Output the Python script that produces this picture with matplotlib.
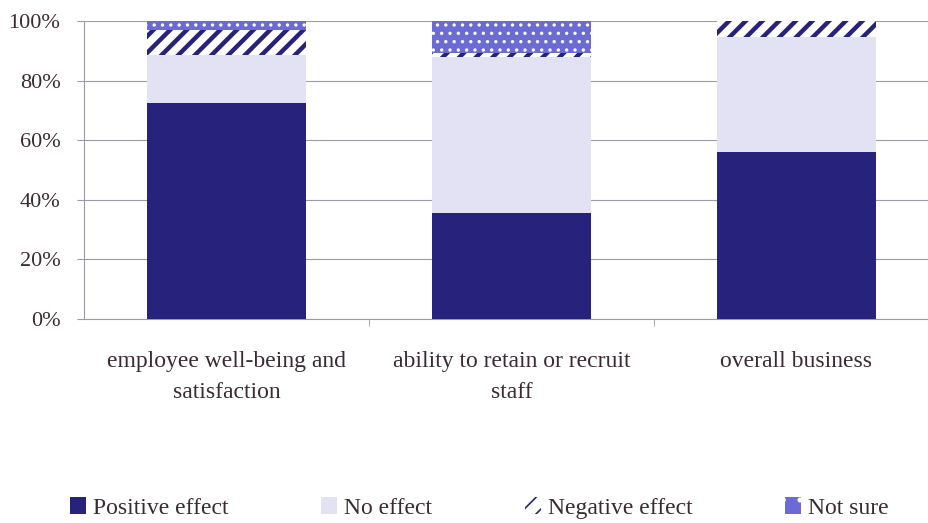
import matplotlib
matplotlib.use("Agg")
import matplotlib.pyplot as plt
from matplotlib.patches import Patch
from matplotlib.ticker import FuncFormatter

categories = ["employee well-being and\nsatisfaction", "ability to retain or recruit\nstaff", "overall business"]
positive = [72.5, 35.6, 56.0]
no_effect = [16.1, 52.3, 38.6]
negative = [8.4, 1.4, 5.4]
not_sure = [3.0, 10.7, 0.0]

navy = "#27227c"
light = "#e2e2f4"
blue = "#6c6bd3"
text_c = "#3b2a33"

plt.rcParams["font.family"] = ["Liberation Serif", "DejaVu Serif"]

fig = plt.figure(figsize=(9.29, 5.23), dpi=100)
ax = fig.add_axes([84/929, 1-319/523, 855/929, 298/523])

x = list(range(len(categories)))
w = 0.56
b1 = positive
b2 = [p + n for p, n in zip(positive, no_effect)]
b3 = [a + n for a, n in zip(b2, negative)]

ax.bar(x, positive, w, color=navy, linewidth=0, zorder=3)
ax.bar(x, no_effect, w, bottom=b1, color=light, linewidth=0, zorder=3)
plt.rcParams["hatch.linewidth"] = 3.2
ax.bar(x, negative, w, bottom=b2, facecolor="white", edgecolor=navy, hatch="//", linewidth=0, zorder=3)
neg_handle = Patch(facecolor="white", edgecolor=navy, hatch="//", linewidth=0)
plt.rcParams["hatch.linewidth"] = 1.2
ax.bar(x, not_sure, w, bottom=b3, facecolor=blue, edgecolor="white", hatch="..", linewidth=0, zorder=3)
ns_handle = Patch(facecolor=blue, edgecolor="white", hatch=".", linewidth=0)

ax.set_xlim(-0.5, 2.5)
ax.set_ylim(0, 100)
ax.set_yticks([0, 20, 40, 60, 80, 100])
ax.yaxis.set_major_formatter(FuncFormatter(lambda v, p: f"{int(v)}%"))
ax.grid(axis="y", color="#9a9aa8", linewidth=0.8, zorder=0)
ax.set_xticks(x)
ax.set_xticklabels(categories, fontsize=17, color=text_c, linespacing=1.6)
ax.set_xticks([0.5, 1.5], minor=True)
ax.tick_params(axis="x", which="major", length=0, pad=23)
ax.tick_params(axis="x", which="minor", length=5, color="#9a9aa8")
ax.tick_params(axis="y", length=5, color="#9a9aa8", labelsize=16, labelcolor=text_c, pad=12)
for s in ["top", "right"]:
    ax.spines[s].set_visible(False)
ax.spines["left"].set_color("#9a9aa8")
ax.spines["bottom"].set_color("#9a9aa8")

handles = [Patch(facecolor=navy, linewidth=0), Patch(facecolor=light, linewidth=0), neg_handle, ns_handle]
labels = ["Positive effect", "No effect", "Negative effect", "Not sure"]
fig.legend(handles, labels, loc="center", bbox_to_anchor=(0.516, 0.029), ncol=4, frameon=False,
           fontsize=17, handlelength=0.7, handleheight=0.7, handletextpad=0.3, columnspacing=3.9,
           labelcolor=text_c)

fig.savefig("out.png", dpi=100)
